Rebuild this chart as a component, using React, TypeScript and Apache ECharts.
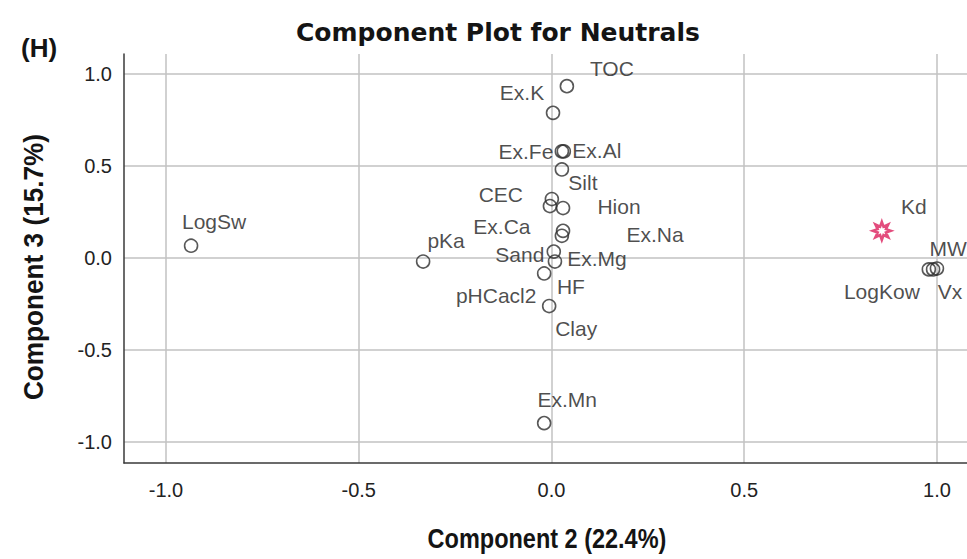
import React, { useEffect, useRef } from "react";
import * as echarts from "echarts";

// ---- data ----
const variableNames = [
  "LogSw", "pKa", "TOC", "Ex.K", "Ex.Fe", "Ex.Al", "Silt", "CEC", "Ex.Ca", "Hion",
  "Ex.Na", "Ex.Mg", "Sand", "HF", "pHCacl2", "Clay", "Ex.Mn", "LogKow", "MW", "Vx",
];
const component2 = [
  -0.935, -0.333, 0.040, 0.004, 0.027, 0.032, 0.027, 0.001, -0.004, 0.030,
  0.030, 0.027, 0.006, 0.009, -0.019, -0.006, -0.019, 0.979, 0.990, 1.0,
];
const component3 = [
  0.067, -0.019, 0.935, 0.790, 0.580, 0.580, 0.482, 0.321, 0.283, 0.272,
  0.148, 0.121, 0.035, -0.019, -0.084, -0.261, -0.898, -0.062, -0.062, -0.057,
];
const targetNames = ["Kd"];
const targetComponent2 = [0.857];
const targetComponent3 = [0.148];

const xTitle = "Component 2 (22.4%)";
const yTitle = "Component 3 (15.7%)";
const chartTitle = "Component Plot for Neutrals";
const panelTag = "(H)";

// ---- label placement (pixel offsets of label centres from their markers) ----
const labelOffsets: Record<string, [number, number]> = {
  LogSw: [23, -24], pKa: [23, -21], TOC: [45, -18], "Ex.K": [-31, -20],
  "Ex.Fe": [-36, 0], "Ex.Al": [33, -1], Silt: [21, 13], CEC: [-51, -5],
  "Ex.Ca": [-48, 20], Hion: [56, -2], "Ex.Na": [92, 4], "Ex.Mg": [35, 23],
  Sand: [-34, 3], HF: [16, 25], pHCacl2: [-48, 22], Clay: [27, 22],
  "Ex.Mn": [23, -24], Kd: [32, -24], MW: [15, -21], LogKow: [-47, 22], Vx: [13, 23],
};

function starPath(points: number, outer: number, inner: number): string {
  const parts: string[] = [];
  for (let i = 0; i < points * 2; i++) {
    const r = i % 2 === 0 ? outer : inner;
    const a = (Math.PI * i) / points - Math.PI / 2;
    const x = 50 + r * Math.cos(a);
    const y = 50 + r * Math.sin(a);
    parts.push((i === 0 ? "M" : "L") + x.toFixed(2) + " " + y.toFixed(2));
  }
  return "path://" + parts.join(" ") + " Z";
}

const labelFont = "'Liberation Sans', Arial, sans-serif";

function makeLabel(name: string) {
  const off = labelOffsets[name] || [0, -18];
  return {
    show: true,
    position: "inside" as const,
    offset: off,
    formatter: name,
    align: "center",
    verticalAlign: "middle",
    fontSize: 21,
    fontFamily: labelFont,
    color: "#1e1e1e",
  };
}

export default function App() {
  const ref = useRef<HTMLDivElement>(null);

  useEffect(() => {
    document.body.style.margin = "0";
    if (!ref.current) return;
    const chart = echarts.init(ref.current, null, { renderer: "svg" });

    const circleData = variableNames.map((n, i) => ({
      name: n,
      value: [component2[i], component3[i]],
      label: makeLabel(n),
    }));
    const starData = targetNames.map((n, i) => ({
      name: n,
      value: [targetComponent2[i], targetComponent3[i]],
      label: makeLabel(n),
    }));

    const gridLine = { show: true, showMinLine: false, showMaxLine: false, lineStyle: { color: "#c2c2c2", width: 1.5 } };
    const axisLine = { show: true, onZero: false, lineStyle: { color: "#3a3a3a", width: 1.5 } };

    chart.setOption({
      animation: false,
      backgroundColor: "#ffffff",
      title: {
        text: chartTitle,
        left: 291,
        top: 15,
        textStyle: { fontFamily: "'DejaVu Sans', Verdana, sans-serif", fontWeight: "bold", fontSize: 25, color: "#141414" },
      },
      grid: { left: 124, top: 54, right: 0, bottom: 96, containLabel: false },
      xAxis: {
        type: "value",
        min: -1.109,
        max: 1.078,
        minInterval: 0.5,
        maxInterval: 0.5,
        splitNumber: 4,
        axisLine,
        axisTick: { show: false },
        splitLine: gridLine,
        axisLabel: {
          formatter: (v: number) => v.toFixed(1),
          showMinLabel: false,
          showMaxLabel: false,
          fontSize: 20,
          fontFamily: labelFont,
          color: "#222",
          margin: 17,
        },
      },
      yAxis: {
        type: "value",
        min: -1.115,
        max: 1.11,
        minInterval: 0.5,
        maxInterval: 0.5,
        splitNumber: 4,
        axisLine,
        axisTick: { show: false },
        splitLine: gridLine,
        axisLabel: {
          formatter: (v: number) => v.toFixed(1),
          showMinLabel: false,
          showMaxLabel: false,
          fontSize: 20,
          fontFamily: labelFont,
          color: "#222",
          margin: 12,
        },
      },
      graphic: [
        {
          type: "text",
          left: 21,
          top: 35,
          style: { text: panelTag, font: "bold 26px 'Liberation Sans', Arial, sans-serif", fill: "#141414" },
        },
        {
          type: "text",
          x: 547,
          y: 538,
          scaleX: 0.87,
          style: {
            text: xTitle,
            align: "center",
            verticalAlign: "middle",
            font: "bold 27px 'Liberation Sans', Arial, sans-serif",
            fill: "#141414",
          },
        },
        {
          type: "text",
          x: 34,
          y: 267,
          rotation: Math.PI / 2,
          scaleX: 0.97,
          style: {
            text: yTitle,
            align: "center",
            verticalAlign: "middle",
            font: "bold 27px 'Liberation Sans', Arial, sans-serif",
            fill: "#141414",
          },
        },
      ],
      series: [
        {
          type: "scatter",
          name: "Variables",
          symbol: "circle",
          symbolSize: 13,
          clip: false,
          itemStyle: { color: "rgba(255,255,255,0)", borderColor: "#2e2e2e", borderWidth: 1.6 },
          data: circleData,
        },
        {
          type: "scatter",
          name: "Target",
          symbol: starPath(8, 48, 24),
          symbolSize: 18,
          clip: false,
          itemStyle: { color: "rgba(255,255,255,0)", borderColor: "#dc1f5c", borderWidth: 2.6 },
          data: starData,
        },
      ],
    });

    return () => chart.dispose();
  }, []);

  return <div ref={ref} style={{ width: 967, height: 559 }} />;
}
